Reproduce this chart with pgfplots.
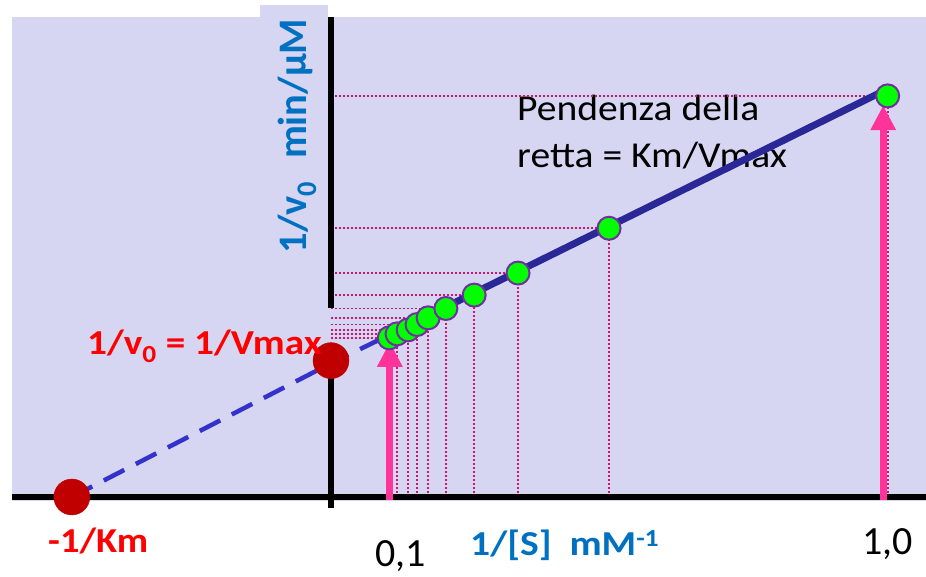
\documentclass[border=0pt]{standalone}
\usepackage{pgfplots}
\pgfplotsset{compat=1.18}
\usepackage{fontspec}
\setmainfont{Carlito}
\usetikzlibrary{arrows.meta}

\definecolor{lav}{RGB}{214,214,243}
\definecolor{navy}{RGB}{42,40,150}
\definecolor{dashblue}{RGB}{51,51,204}
\definecolor{darkred}{RGB}{192,0,0}
\definecolor{ptgreen}{RGB}{0,255,0}
\definecolor{ptpurple}{RGB}{112,48,160}
\definecolor{pinkarrow}{RGB}{255,51,153}
\definecolor{dotmag}{RGB}{210,20,110}
\definecolor{labblue}{RGB}{0,112,192}

% Lineweaver-Burk points: 1/[S] (mM^-1) vs 1/v0
\pgfplotstableread{
x      y
0.105  1.19
0.119  1.22
0.139  1.25
0.155  1.29
0.175  1.34
0.207  1.41
0.258  1.51
0.337  1.675
0.501  2.01
1.003  3.00
}\lbdata

\begin{document}
\begin{tikzpicture}[x=1pt,y=1pt]
\useasboundingbox (0,0) rectangle (926,577);
% background panel
\fill[lav] (12,76) rectangle (926,560);
\fill[lav] (260,560) rectangle (328,572);
% slope note (under the fitted line)
\node[anchor=base west, inner sep=0, xscale=1.085, font=\fontsize{36.5}{44}\selectfont] at (517,456) {Pendenza della};
\node[anchor=base west, inner sep=0, xscale=1.085, font=\fontsize{36.5}{44}\selectfont] at (517,409) {retta = Km/Vmax};
\begin{axis}[
    at={(12pt,76pt)}, anchor=south west,
    scale only axis,
    width=914pt, height=484pt,
    xmin=-0.5748, xmax=1.0721,
    ymin=-0.0299, ymax=3.590,
    hide axis,
    clip=false,
]
% drop lines
\addplot[ycomb, dotmag, line width=1.8pt, dash pattern=on 2pt off 2pt] table {\lbdata};
\addplot[xcomb, dotmag, line width=1.8pt, dash pattern=on 2pt off 2pt] table {\lbdata};
% axes
\draw[black, line width=6pt] (-0.5748,0) -- (1.0721,0);
\draw[black, line width=6pt] (0,1.414) -- (0,3.590);
\draw[black, line width=6pt] (0,-0.08) -- (0,1.0);
% arrows
\draw[pinkarrow, line width=7pt, -{Triangle[width=24pt,length=25pt]}] (0.106,-0.022) -- (0.106,1.16);
\draw[pinkarrow, line width=7pt, -{Triangle[width=24pt,length=25pt]}] (0.995,-0.022) -- (0.995,2.93);
% intercepts
\addplot[only marks, mark=*, mark size=18pt, darkred, mark options={fill=darkred, draw=darkred}] coordinates {(-0.467,0) (0,1.02)};
% experimental points
\addplot[only marks, mark=*, mark size=11.5pt, mark options={fill=ptgreen, draw=ptpurple, line width=2pt}] table {\lbdata};
% fitted line and extrapolation
\addplot[navy, line width=7pt] coordinates {(0.094,1.19) (1.007,3.06)};
\addplot[dashblue, line width=4.5pt, dash pattern=on 23pt off 13pt] coordinates {(-0.467,0) (0,1.0) (0.094,1.19)};
\end{axis}
% labels
\node[anchor=base west, inner sep=0, xscale=1.12, red, font=\bfseries\fontsize{35}{42}\selectfont] at (87,222) {1/v\textsubscript{0} = 1/Vmax};
\node[anchor=base west, inner sep=0, xscale=1.1, red, font=\bfseries\fontsize{35}{42}\selectfont] at (48,24) {-1/Km};
\node[anchor=base west, inner sep=0, font=\fontsize{40}{48}\selectfont] at (375,10) {0,1};
\node[anchor=base west, inner sep=0, font=\fontsize{40}{48}\selectfont] at (862,22) {1,0};
\node[anchor=base west, inner sep=0, xscale=1.13, labblue, font=\bfseries\fontsize{35}{42}\selectfont] at (470,21) {1/[S]\ \ mM\textsuperscript{-1}};
\node[anchor=base, inner sep=0, rotate=90, labblue, font=\bfseries\fontsize{40.5}{48}\selectfont] at (306,441) {1/v\textsubscript{0}\hspace{0.55em}min/µM};
\end{tikzpicture}
\end{document}
